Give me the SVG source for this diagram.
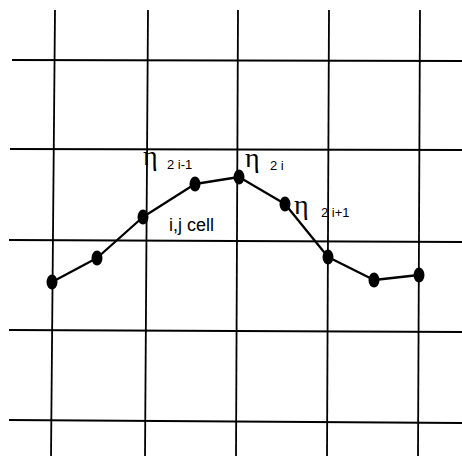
<svg xmlns="http://www.w3.org/2000/svg" width="462" height="459" viewBox="0 0 462 459">
<style>
.grid{stroke:#000;stroke-width:1.8;fill:none}
.curve{stroke:#000;stroke-width:2.3;fill:none;stroke-linejoin:round}
.dot{fill:#000}
.eta{font-family:"Liberation Serif","DejaVu Serif",serif;font-size:28px;fill:#000}
.sub{font-family:"Liberation Sans",Arial,sans-serif;font-size:13px;fill:#000}
.lbl{font-family:"Liberation Sans",Arial,sans-serif;font-size:18px;fill:#000}
</style>
<g id="grid">
<line class="grid" x1="55" y1="10" x2="51" y2="456"/>
<line class="grid" x1="148" y1="10" x2="145" y2="456"/>
<line class="grid" x1="238" y1="10" x2="236" y2="456"/>
<line class="grid" x1="329" y1="10" x2="327" y2="456"/>
<line class="grid" x1="420" y1="10" x2="418" y2="456"/>
<line class="grid" x1="12" y1="60" x2="462" y2="61"/>
<line class="grid" x1="10" y1="149" x2="462" y2="150"/>
<line class="grid" x1="9" y1="240" x2="462" y2="242"/>
<line class="grid" x1="9" y1="330" x2="462" y2="332"/>
<line class="grid" x1="9" y1="420" x2="462" y2="423"/>
</g>
<g id="connectors">
<polyline class="curve" points="52,282 97,258 143,217 195,184 239,177 285,204 328,257 374,280 419,275"/>
</g>
<g id="n1"><ellipse class="dot" cx="52" cy="282" rx="5.5" ry="7.5"/></g>
<g id="n2"><ellipse class="dot" cx="97" cy="258" rx="5.5" ry="7.5"/></g>
<g id="n3"><ellipse class="dot" cx="143" cy="217" rx="5.5" ry="7.5"/></g>
<g id="n4"><ellipse class="dot" cx="195" cy="184" rx="5.5" ry="7.5"/></g>
<g id="n5"><ellipse class="dot" cx="239" cy="177" rx="5.5" ry="7.5"/></g>
<g id="n6"><ellipse class="dot" cx="285" cy="204" rx="5.5" ry="7.5"/></g>
<g id="n7"><ellipse class="dot" cx="328" cy="257" rx="5.5" ry="7.5"/></g>
<g id="n8"><ellipse class="dot" cx="374" cy="280" rx="5.5" ry="7.5"/></g>
<g id="n9"><ellipse class="dot" cx="419" cy="275" rx="5.5" ry="7.5"/></g>
<g id="labels">
<text class="eta" x="143" y="165">η</text>
<text class="sub" x="167" y="169" xml:space="preserve">2 i-1</text>
<text class="eta" x="245" y="167">η</text>
<text class="sub" x="270" y="170" xml:space="preserve">2 i</text>
<text class="eta" x="294" y="214">η</text>
<text class="sub" x="321" y="217" xml:space="preserve">2 i+1</text>
<text class="lbl" x="169" y="231">i,j cell</text>
</g>
</svg>
